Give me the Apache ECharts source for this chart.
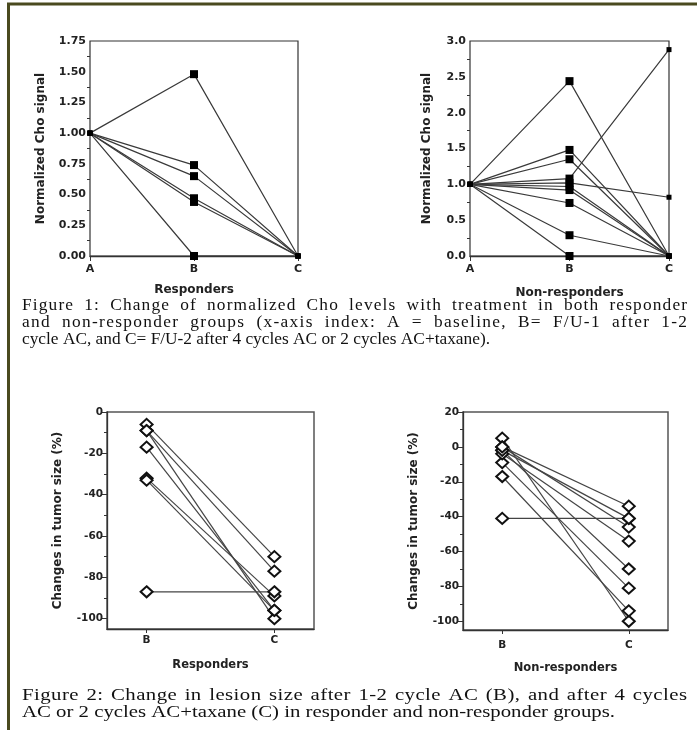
<!DOCTYPE html>
<html>
<head>
<meta charset="utf-8">
<script src="https://cdn.jsdelivr.net/npm/echarts@6/dist/echarts.min.js"></script>
<style>
html,body{margin:0;padding:0;background:#fff;}
#fig{width:697px;height:730px;}
</style>
</head>
<body>
<div id="fig"></div>
<script>
// Figure 1: normalized Cho signal, A = baseline, B = F/U-1, C = F/U-2
var cho_x = ['A', 'B', 'C'];
var cho_resp = [
    [1, 1.48, 0],
    [1, 0.74, 0],
    [1, 0.65, 0],
    [1, 0.47, 0],
    [1, 0.44, 0],
    [1, 0, 0]
];
var cho_nonresp = [
    [1, 2.44, 0],
    [1, 1.48, 0],
    [1, 1.35, 0],
    [1, 1.08, 2.88],
    [1, 1.02, 0.82],
    [1, 0.97, 0],
    [1, 0.92, 0],
    [1, 0.74, 0],
    [1, 0.29, 0],
    [1, 0, 0]
];

// Figure 2: change in tumor size (%) at B and C
var size_x = ['B', 'C'];
var size_resp = [
    [-6, -70],
    [-9, -77],
    [-9, -100],
    [-17, -96],
    [-32, -89],
    [-33, -96],
    [-87, -87]
];
var size_nonresp = [
    [5, -100],
    [-17, -94],
    [-9, -81],
    [-2, -70],
    [-4, -54],
    [0, -46],
    [-2, -41],
    [0, -34],
    [-41, -41]
];
var size_resp_ticks = [0, -20, -40, -60, -80, -100];
var size_resp_minor = [-10, -30, -50, -70, -90];
var size_nonresp_ticks = [20, 0, -20, -40, -60, -80, -100];
var size_nonresp_minor = [10, -10, -30, -50, -70, -90];

var caption1 = [
    'Figure 1: Change of normalized Cho levels with treatment in both responder',
    'and non-responder groups (x-axis index: A = baseline, B= F/U-1 after 1-2',
    'cycle AC, and C= F/U-2 after 4 cycles AC or 2 cycles AC+taxane).'
];
var caption2 = [
    'Figure 2: Change in lesion size after 1-2 cycle AC (B), and after 4 cycles',
    'AC or 2 cycles AC+taxane (C) in responder and non-responder groups.'
];

var lblFont = {color: '#222', fontFamily: 'DejaVu Sans', fontWeight: 'bold', fontSize: 11};
var nameFont = {color: '#222', fontFamily: 'DejaVu Sans', fontWeight: 'bold', fontSize: 12};
var axLine = {onZero: false, lineStyle: {color: '#333', width: 1.3}};

function choY(grid, max, step, dec, gap) {
    return {
        type: 'value', gridIndex: grid, min: 0, max: max, interval: step,
        name: 'Normalized Cho signal', nameLocation: 'middle', nameGap: gap, nameTextStyle: nameFont,
        axisLine: axLine,
        axisTick: {length: 5, lineStyle: {color: '#333'}},
        minorTick: {show: true, splitNumber: 2, length: 3, lineStyle: {color: '#333'}},
        axisLabel: Object.assign({margin: 4, formatter: function (v) { return v.toFixed(dec); }}, lblFont),
        splitLine: {show: false}
    };
}
function choX(grid, name, gap) {
    return {
        type: 'category', gridIndex: grid, data: cho_x, boundaryGap: false,
        name: name, nameLocation: 'middle', nameGap: gap, nameTextStyle: nameFont,
        axisLine: axLine,
        axisTick: {length: 5, lineStyle: {color: '#333'}},
        axisLabel: Object.assign({margin: 8}, lblFont)
    };
}
function sizeY(grid, max, ticks, gap) {
    return {
        type: 'value', gridIndex: grid, min: -105, max: max, position: 'left',
        name: 'Changes in tumor size (%)', nameLocation: 'middle', nameGap: gap, nameTextStyle: nameFont,
        axisLine: axLine,
        axisTick: {customValues: ticks, length: 5, lineStyle: {color: '#333'}},
        axisLabel: Object.assign({customValues: ticks, margin: 4}, lblFont, {fontSize: 10.5}),
        splitLine: {show: false}
    };
}
function sizeMinor(grid, max, minor) {
    return {
        type: 'value', gridIndex: grid, min: -105, max: max, position: 'left',
        axisLine: {show: false, onZero: false},
        axisTick: {customValues: minor, length: 3, lineStyle: {color: '#333'}},
        axisLabel: {show: false},
        splitLine: {show: false}
    };
}
function sizeX(grid, name, gap, margin) {
    return {
        type: 'value', gridIndex: grid, min: 0.69, max: 2.31,
        name: name, nameLocation: 'middle', nameGap: gap, nameTextStyle: Object.assign({}, nameFont, {fontSize: 11.5}),
        axisLine: axLine,
        axisTick: {customValues: [1, 2], length: 4, lineStyle: {color: '#333'}},
        axisLabel: Object.assign({customValues: [1, 2], margin: margin,
            formatter: function (v) { return size_x[Math.round(v) - 1]; }}, lblFont, {fontSize: 10.5}),
        splitLine: {show: false}
    };
}

var series = [];
function addCho(rows, axis) {
    rows.forEach(function (row) {
        series.push({
            type: 'line', xAxisIndex: axis, yAxisIndex: axis, data: row,
            symbol: 'rect',
            symbolSize: function (v, p) { return p.dataIndex === 1 ? 8 : 5; },
            lineStyle: {color: '#3a3a3a', width: 1.2},
            itemStyle: {color: '#000'}
        });
    });
}
function addSize(rows, axis) {
    rows.forEach(function (row) {
        series.push({
            type: 'line', xAxisIndex: axis, yAxisIndex: axis,
            data: row.map(function (v, i) { return [i + 1, v]; }),
            symbol: 'diamond', symbolSize: [12, 11],
            lineStyle: {color: '#444', width: 1.2},
            itemStyle: {color: '#fff', borderColor: '#111', borderWidth: 2}
        });
    });
}
addCho(cho_resp, 0);
addCho(cho_nonresp, 1);
addSize(size_resp, 2);
addSize(size_nonresp, 3);

// captions: full lines are justified, mostly at the word gaps and a little
// between letters, so those lines are laid out glyph by glyph
var capFont = '16px "Liberation Serif"';
var ctx = document.createElement('canvas').getContext('2d');
ctx.font = capFont;
var capLeft = 22, capRight = 687;
function captionLines(lines, y0, lastEnd) {
    var els = [];
    var lastText = lines[lines.length - 1];
    var sx = (lastEnd - capLeft) / ctx.measureText(lastText).width;
    lines.forEach(function (text, li) {
        var y = y0 + li * 17;
        if (li === lines.length - 1) {
            els.push({type: 'text', x: capLeft, y: y, scaleX: sx,
                style: {text: text, font: capFont, fill: '#111', verticalAlign: 'middle'}});
            return;
        }
        var natural = ctx.measureText(text).width * sx;
        var weights = [0], sum = 0;
        for (var k = 1; k < text.length; k++) {
            var wgt = (text.charAt(k) === ' ' || text.charAt(k - 1) === ' ') ? 3 : 1;
            sum += wgt;
            weights.push(sum);
        }
        var unit = (capRight - capLeft - natural) / sum;
        for (var i = 0; i < text.length; i++) {
            var ch = text.charAt(i);
            if (ch === ' ') continue;
            var x = capLeft + ctx.measureText(text.substring(0, i)).width * sx + weights[i] * unit;
            els.push({type: 'text', x: x, y: y, scaleX: sx,
                style: {text: ch, font: capFont, fill: '#111', verticalAlign: 'middle'}});
        }
    });
    return els;
}

var graphics = [
    {type: 'line', shape: {x1: 7, y1: 4, x2: 697, y2: 4}, style: {stroke: '#4a4a1f', lineWidth: 3}},
    {type: 'line', shape: {x1: 8.5, y1: 3, x2: 8.5, y2: 730}, style: {stroke: '#4a4a1f', lineWidth: 3}}
].concat(captionLines(caption1, 306, 490)).concat(captionLines(caption2, 696, 615));

var chart = echarts.init(document.getElementById('fig'));
chart.setOption({
    animation: false,
    grid: [
        {left: 90, top: 41, width: 208, height: 215, show: true, borderColor: '#333', borderWidth: 1.2},
        {left: 470, top: 41, width: 199, height: 215, show: true, borderColor: '#333', borderWidth: 1.2},
        {left: 107, top: 412, width: 207, height: 217, show: true, borderColor: '#555', borderWidth: 1.5},
        {left: 463, top: 412, width: 205, height: 218, show: true, borderColor: '#555', borderWidth: 1.5}
    ],
    xAxis: [
        choX(0, 'Responders', 28),
        choX(1, 'Non-responders', 31),
        sizeX(2, 'Responders', 30, 6),
        sizeX(3, 'Non-responders', 32, 10)
    ],
    yAxis: [
        choY(0, 1.75, 0.25, 2, 43),
        choY(1, 3, 0.5, 1, 37),
        sizeY(2, 0, size_resp_ticks, 43),
        sizeY(3, 20, size_nonresp_ticks, 43),
        sizeMinor(2, 0, size_resp_minor),
        sizeMinor(3, 20, size_nonresp_minor)
    ],
    series: series,
    graphic: graphics
});
</script>
</body>
</html>
